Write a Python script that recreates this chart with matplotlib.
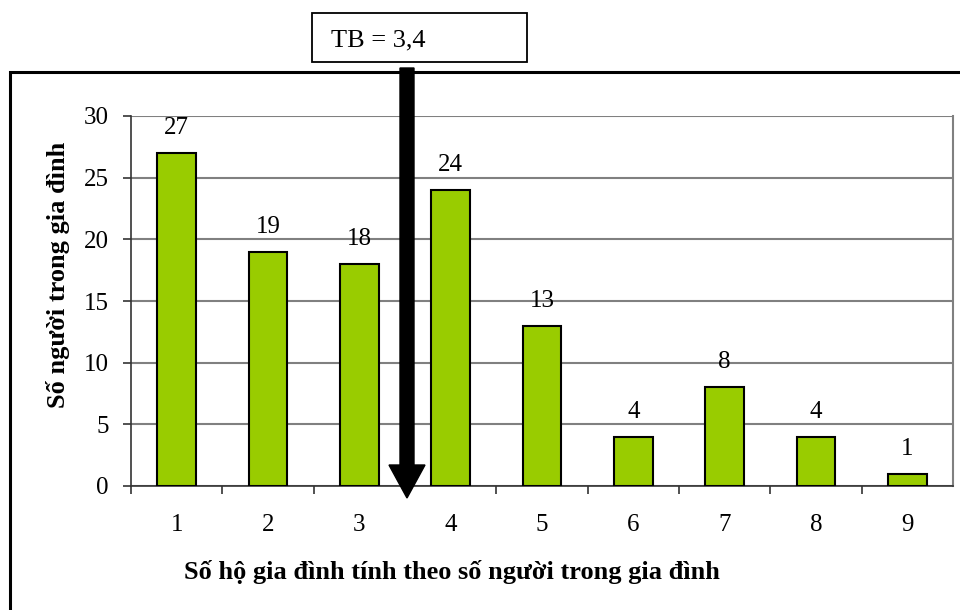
import matplotlib
matplotlib.use("Agg")
import matplotlib.pyplot as plt
from matplotlib.patches import Rectangle, FancyArrow

categories = [1, 2, 3, 4, 5, 6, 7, 8, 9]
values = [27, 19, 18, 24, 13, 4, 8, 4, 1]
yticks = [0, 5, 10, 15, 20, 25, 30]
mean_label = "TB = 3,4"
xlabel = "Số hộ gia đình tính theo số người trong gia đình"
ylabel = "Số người trong gia đình"

plt.rcParams['font.family'] = ['Liberation Serif', 'DejaVu Serif']

fig = plt.figure(figsize=(9.6, 6.1), dpi=100)
ax = fig.add_axes([131/960, 1-486/610, (953-131)/960, (486-116)/610])

ax.bar(categories, values, width=0.42, color='#99CC00', edgecolor='black', linewidth=1.5, zorder=3)
for c, v in zip(categories, values):
    ax.annotate(str(v), (c, v), xytext=(0, 10), textcoords='offset points',
                ha='center', va='bottom', fontsize=18)

ax.set_xlim(0.5, 9.5)
ax.set_ylim(0, 30)
ax.set_yticks(yticks)
ax.set_xticks(categories)
ax.set_xticks([x + 0.5 for x in range(0, 9)], minor=True)
ax.tick_params(axis='x', which='major', length=0, pad=20, labelsize=18)
ax.tick_params(axis='x', which='minor', length=6, width=1.2, direction='out', color='#333333')
ax.tick_params(axis='y', length=6, width=1.2, direction='out', labelsize=18, pad=10, color='#333333')
ax.yaxis.grid(True, color='#808080', linewidth=1.5, zorder=0)
ax.set_axisbelow(True)
ax.spines['top'].set_visible(False)
ax.spines['right'].set_color('#808080')
ax.spines['right'].set_linewidth(1.5)
ax.spines['left'].set_color('#333333')
ax.spines['bottom'].set_color('#333333')
ax.spines['left'].set_linewidth(1.2)
ax.spines['bottom'].set_linewidth(1.2)

fig.text(452/960, 1-572/610, xlabel, ha='center', va='center', fontsize=19, fontweight='bold')
fig.text(58/960, 1-275/610, ylabel, ha='center', va='center', rotation=90, fontsize=19, fontweight='bold')

# outer chart border
fig.patches.append(Rectangle((10/960, -0.1), 1.2, 0.1 + (610-72)/610, transform=fig.transFigure,
                             fill=False, edgecolor='black', linewidth=2.2))
# mean label box
fig.patches.append(Rectangle((312/960, 1-62/610), (527-312)/960, 49/610, transform=fig.transFigure,
                             fill=False, edgecolor='black', linewidth=1.3))
fig.text(331/960, 1-40/610, mean_label, ha='left', va='center', fontsize=19)

# arrow
arr = FancyArrow(4.07, (610-68)/100, 0, -(498-68)/100, width=0.14, head_width=0.36,
                 head_length=0.33, length_includes_head=True, color='black',
                 transform=fig.dpi_scale_trans)
fig.patches.append(arr)

fig.savefig('out.png', dpi=100)
